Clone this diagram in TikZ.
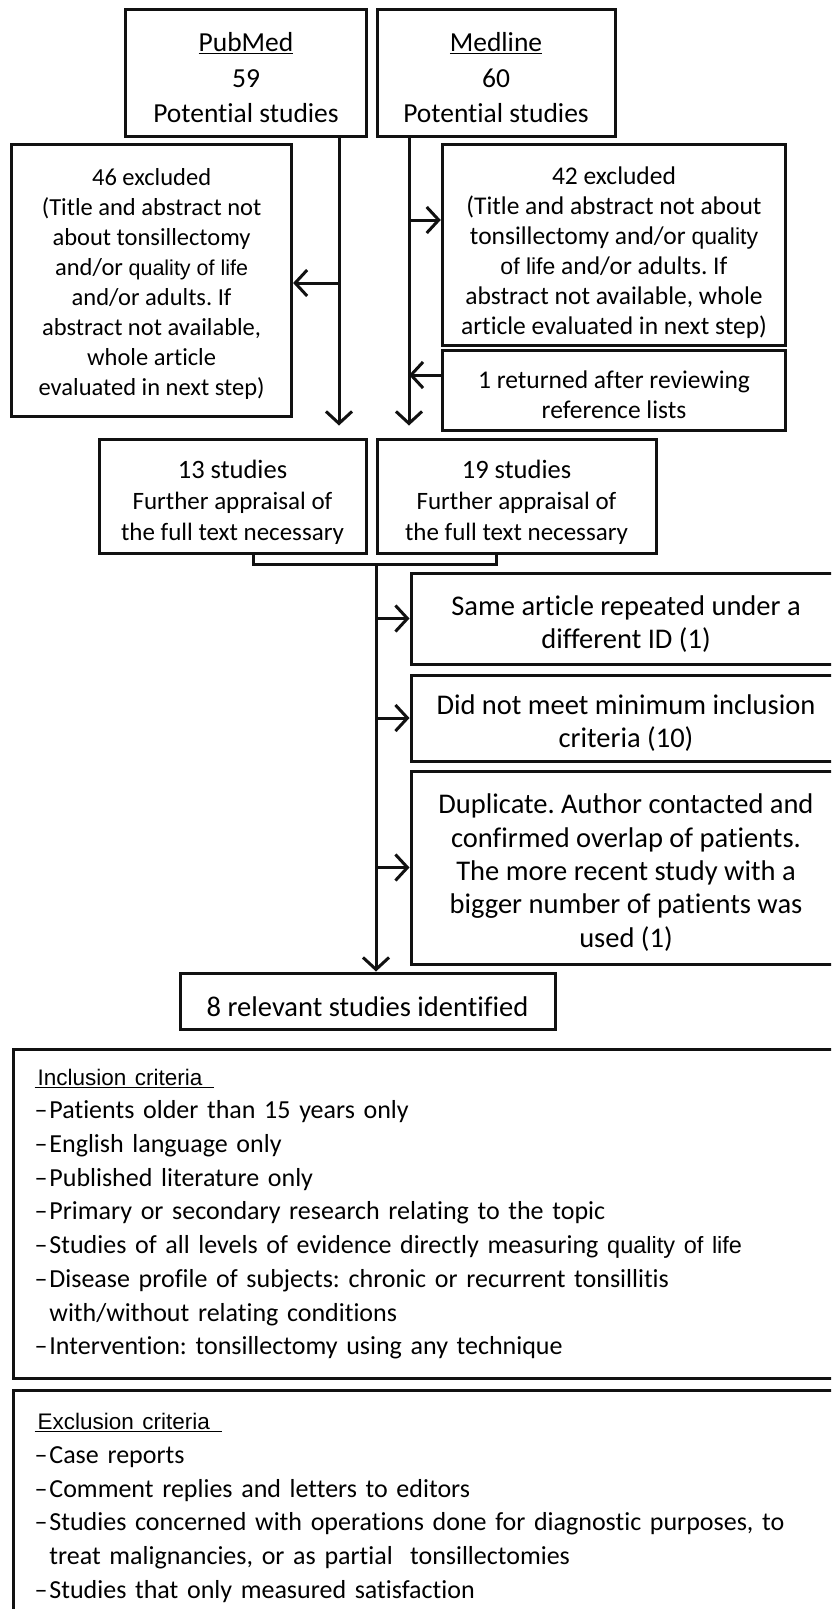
\documentclass[tikz,border=0pt]{standalone}
\usepackage{fontspec}
\setmainfont{Carlito}[Ligatures={TeX,NoCommon}]
\newfontfamily\arialf{Liberation Sans}
\usetikzlibrary{arrows.meta}
\definecolor{lineBlack}{HTML}{111111}
\newcommand{\qolTxt}[2][21.5]{{\arialf\fontsize{#1}{30}\selectfont #2}}
\newcommand{\critHead}[1]{{\arialf\fontsize{22.5}{33.5}\selectfont\underline{\hspace{3pt}#1\hspace{12pt}}}}
\newcommand{\dropTo}[1]{\rule{0pt}{#1}}
\frenchspacing

\tikzset{
  flowBox/.style={draw=lineBlack,line width=3pt,fill=white,align=center,inner sep=0pt,
    font=\fontsize{25}{31}\selectfont},
  flowLine/.style={draw=lineBlack,line width=3pt},
  barbArrow/.style={flowLine,-{Straight Barb[length=12pt,width=26pt]}},
  critBox/.style={flowBox,align=left,anchor=north west,minimum width=829pt,
    inner xsep=21pt,text width=787pt,font=\fontsize{26}{33.7}\selectfont},
}

\begin{document}
\begin{tikzpicture}[x=1pt,y=-1pt]
  \clip (0,0) rectangle (831,1609);
  \fill[white] (0,0) rectangle (831,1609);

  % sources
  \node[flowBox,minimum width=241pt,minimum height=127pt,font=\fontsize{27.5}{35.5}\selectfont] (pubmed) at (246,72.6)
    {\dropTo{29pt}\underline{PubMed}\\59\\Potential studies};
  \node[flowBox,minimum width=238pt,minimum height=127pt,font=\fontsize{27.5}{35.5}\selectfont] (medline) at (496,72.6)
    {\dropTo{29pt}\underline{Medline}\\60\\Potential studies};

  % screening
  \node[flowBox,minimum width=280pt,minimum height=272pt,font=\fontsize{24.5}{30}\selectfont] (excl46) at (151.6,280)
    {\dropTo{25pt}46 excluded\\(Title and abstract not\\about tonsillectomy\\and/or \qolTxt{quality of life}\\and/or adults. If\\abstract not available,\\whole article\\evaluated in next step)};
  \node[flowBox,minimum width=343.5pt,minimum height=201pt,font=\fontsize{25.5}{30}\selectfont] (excl42) at (614,244.5)
    {\dropTo{35pt}42 excluded\\(Title and abstract not about\\tonsillectomy and/or \qolTxt[23]{quality}\\\qolTxt[23]{of life} and/or adults. If\\abstract not available, whole\\article evaluated in next step)};
  \node[flowBox,minimum width=343.5pt,minimum height=80pt,font=\fontsize{25.5}{30}\selectfont] (returned) at (614,390)
    {\dropTo{27pt}1 returned after reviewing\\reference lists};

  % full text appraisal
  \node[flowBox,minimum width=267pt,minimum height=114pt] (studies13) at (232.5,496)
    {\dropTo{32pt}{\fontsize{26.5}{31}\selectfont 13 studies}\\Further appraisal of\\the full text necessary};
  \node[flowBox,minimum width=279pt,minimum height=114pt] (studies19) at (516.5,496)
    {\dropTo{32pt}{\fontsize{26.5}{31}\selectfont 19 studies}\\Further appraisal of\\the full text necessary};

  % removed after appraisal
  \node[flowBox,minimum width=430pt,minimum height=91pt,font=\fontsize{28.5}{33}\selectfont] (same) at (626,618.5)
    {\dropTo{30pt}Same article repeated under a\\different ID (1)};
  \node[flowBox,minimum width=430pt,minimum height=86pt,font=\fontsize{28.5}{33}\selectfont] (notmeet) at (626,718)
    {\dropTo{30pt}Did not meet minimum inclusion\\criteria (10)};
  \node[flowBox,minimum width=430pt,minimum height=193pt,font=\fontsize{28.5}{33.3}\selectfont] (dupl) at (626,867.5)
    {\dropTo{30pt}Duplicate. Author contacted and\\confirmed overlap of patients.\\The more recent study with a\\bigger number of patients was\\used (1)};

  \node[flowBox,minimum width=375pt,minimum height=56pt,font=\fontsize{28.5}{33}\selectfont] (relevant) at (367.5,1001)
    {\dropTo{32pt}8 relevant studies identified};

  % criteria
  \node[critBox,minimum height=329pt] (inclusion) at (12,1048)
    {\critHead{Inclusion criteria}\\
     –\hspace{2pt}Patients older than 15 years only\\
     –\hspace{2pt}English language only\\
     –\hspace{2pt}Published literature only\\
     –\hspace{2pt}Primary or secondary research relating to the topic\\
     –\hspace{2pt}Studies of all levels of evidence directly measuring \qolTxt[23.5]{quality of life}\\
     –\hspace{2pt}Disease profile of subjects: chronic or recurrent tonsillitis\\
     \phantom{–}\hspace{2pt}with/without relating conditions\\
     –\hspace{2pt}Intervention: tonsillectomy using any technique};
  \node[critBox,minimum height=235pt] (exclusion) at (12,1389)
    {\critHead{Exclusion criteria}\\
     –\hspace{2pt}Case reports\\
     –\hspace{2pt}Comment replies and letters to editors\\
     –\hspace{2pt}Studies concerned with operations done for diagnostic purposes, to\\
     \phantom{–}\hspace{2pt}treat malignancies, or as partial\ \ tonsillectomies\\
     –\hspace{2pt}Studies that only measured satisfaction};

  % connectors
  \coordinate (pubDrop) at (339,0);
  \coordinate (medDrop) at (409,0);
  \coordinate (pubSide) at (339,283);
  \coordinate (medSide) at (409,220);
  \coordinate (retSide) at (409,375);
  \coordinate (brkLeft) at (253,564);
  \coordinate (brkRight) at (496,564);
  \coordinate (brk) at (376,564);

  \draw[barbArrow,shorten >=12pt] (pubmed.south -| pubDrop) -- (studies13.north -| pubDrop);
  \draw[barbArrow,shorten >=12pt] (medline.south -| medDrop) -- (studies19.north -| medDrop);
  \draw[barbArrow] (pubSide) -- (pubSide -| excl46.east);
  \draw[barbArrow] (medSide) -- (medSide -| excl42.west);
  \draw[barbArrow] (retSide -| returned.west) -- (retSide);

  \draw[flowLine] (studies13.south -| brkLeft) -- (brkLeft) -- (brkRight) -- (studies19.south -| brkRight);
  \draw[barbArrow] (brk) -- (brk |- relevant.north);
  \draw[barbArrow] (brk |- same.west) -- (same.west);
  \draw[barbArrow] (brk |- notmeet.west) -- (notmeet.west);
  \draw[barbArrow] (brk |- dupl.west) -- (dupl.west);
\end{tikzpicture}
\end{document}
